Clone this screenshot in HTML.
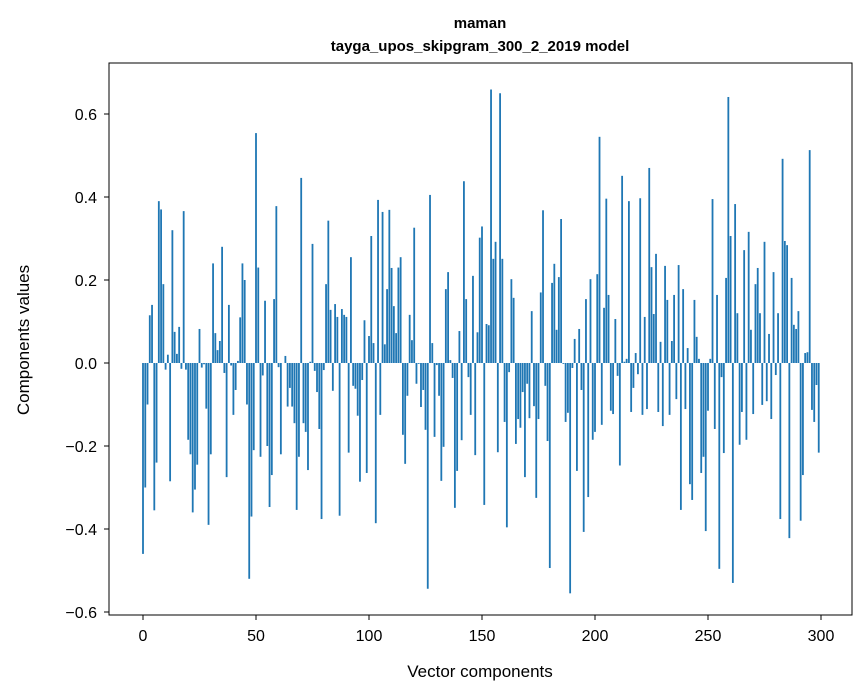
<!DOCTYPE html>
<html><head><meta charset="utf-8"><style>
body{margin:0;background:#fff;}
svg{display:block;font-family:"Liberation Sans",Arial,sans-serif;}
</style></head><body>
<svg id="chart" width="867" height="696" viewBox="0 0 867 696" xmlns="http://www.w3.org/2000/svg">
<text x="480" y="28" text-anchor="middle" font-size="15" font-weight="bold">maman</text>
<text x="480" y="51" text-anchor="middle" font-size="15" font-weight="bold">tayga_upos_skipgram_300_2_2019 model</text>
<g id="bars"></g>
<g id="axes"></g>
<rect x="109" y="63" width="743" height="552" fill="none" stroke="#000" stroke-width="1"/>
<text x="480" y="677" text-anchor="middle" font-size="17">Vector components</text>
<text transform="translate(29,340) rotate(-90)" text-anchor="middle" font-size="17">Components values</text>
</svg>
<script>
const values = [
-0.46,-0.30,-0.10,0.115,0.14,-0.355,-0.24,0.39,0.37,0.19,
-0.016,0.02,-0.285,0.32,0.075,0.022,0.087,-0.014,0.366,-0.016,
-0.185,-0.22,-0.36,-0.305,-0.245,0.082,-0.011,-0.003,-0.11,-0.39,
-0.22,0.24,0.072,0.031,0.053,0.28,-0.024,-0.275,0.14,-0.006,
-0.125,-0.065,0.005,0.11,0.24,0.2,-0.1,-0.52,-0.37,-0.21,
0.554,0.23,-0.226,-0.03,0.15,-0.2,-0.347,-0.27,0.154,0.378,
-0.01,-0.22,0,0.017,-0.105,-0.06,-0.105,-0.145,-0.354,-0.226,
0.446,-0.145,-0.166,-0.258,0.003,0.287,-0.019,-0.07,-0.159,-0.376,
-0.017,0.19,0.343,0.128,-0.067,0.142,0.111,-0.368,0.13,0.116,
0.111,-0.216,0.255,-0.055,-0.062,-0.127,-0.286,-0.041,0.103,-0.265,
0.065,0.306,0.048,-0.386,0.393,-0.125,0.364,0.045,0.178,0.369,
0.229,0.137,0.072,0.23,0.255,-0.173,-0.243,-0.079,0.116,0.055,
0.326,-0.05,-0.002,-0.106,-0.065,-0.161,-0.544,0.405,0.048,-0.178,
-0.005,-0.079,-0.284,-0.202,0.178,0.219,0.007,-0.036,-0.349,-0.26,
0.077,-0.186,0.438,0.154,-0.034,-0.125,0.21,-0.222,0.074,0.302,
0.329,-0.342,0.094,0.091,0.659,0.251,0.292,-0.215,0.65,0.251,
-0.142,-0.396,-0.022,0.202,0.157,-0.195,-0.135,-0.156,-0.07,-0.275,
-0.05,-0.133,0.125,-0.104,-0.325,-0.135,0.17,0.368,-0.055,-0.188,
-0.494,0.193,0.239,0.08,0.207,0.347,-0.002,-0.142,-0.12,-0.555,
-0.012,0.058,-0.26,0.082,-0.065,-0.407,0.154,-0.323,0.202,-0.185,
-0.166,0.214,0.545,-0.149,0.133,0.396,0.164,-0.115,-0.123,0.106,
-0.031,-0.247,0.451,0.003,0.01,0.39,-0.118,-0.06,0.024,-0.027,
0.397,-0.125,0.111,-0.111,0.47,0.231,0.118,0.263,-0.118,0.051,
-0.152,0.234,0.152,-0.125,0.053,0.164,-0.087,0.236,-0.354,0.178,
-0.111,0.036,-0.292,-0.33,0.152,0.063,0.01,-0.265,-0.226,-0.405,
-0.115,0.01,0.395,-0.159,0.164,-0.496,-0.034,-0.217,0.205,0.641,
0.306,-0.53,0.383,0.12,-0.197,-0.118,0.272,-0.185,0.316,0.08,
-0.123,0.19,0.229,0.12,-0.101,0.292,-0.092,0.07,-0.135,0.219,
-0.029,0.12,-0.376,0.492,0.294,0.284,-0.422,0.205,0.092,0.082,
0.125,-0.38,-0.27,0.024,0.026,0.513,-0.113,-0.142,-0.053,-0.216
];
const xTicks = [0,50,100,150,200,250,300];
const yTicks = [-0.6,-0.4,-0.2,0.0,0.2,0.4,0.6];
const yTickLabels = ["\u22120.6","\u22120.4","\u22120.2","0.0","0.2","0.4","0.6"];

const NS = "http://www.w3.org/2000/svg";
function xScale(i){ return 143 + 2.26*i; }
function yScale(v){ return 363 - 415*v; }
const barW = 0.8*2.26;
const barsG = document.getElementById('bars');
values.forEach((v,i)=>{
  const r = document.createElementNS(NS,'rect');
  const y0 = yScale(0), y1 = yScale(v);
  r.setAttribute('x', xScale(i)-barW/2);
  r.setAttribute('y', Math.min(y0,y1));
  r.setAttribute('width', barW);
  r.setAttribute('height', Math.abs(y1-y0));
  r.setAttribute('fill', '#1f77b4');
  
  
  barsG.appendChild(r);
});
const axesG = document.getElementById('axes');
xTicks.forEach(t=>{
  const x = xScale(t);
  const l = document.createElementNS(NS,'line');
  l.setAttribute('x1',x); l.setAttribute('x2',x); l.setAttribute('y1',615); l.setAttribute('y2',620);
  l.setAttribute('stroke','#000');
  
  
  axesG.appendChild(l);
  const tx = document.createElementNS(NS,'text');
  tx.setAttribute('x',x); tx.setAttribute('y',641); tx.setAttribute('text-anchor','middle'); tx.setAttribute('font-size','16');
  tx.textContent = String(t);
  
  
  axesG.appendChild(tx);
});
yTicks.forEach((t,k)=>{
  const y = yScale(t);
  const l = document.createElementNS(NS,'line');
  l.setAttribute('x1',104); l.setAttribute('x2',109); l.setAttribute('y1',y); l.setAttribute('y2',y);
  l.setAttribute('stroke','#000');
  
  
  axesG.appendChild(l);
  const tx = document.createElementNS(NS,'text');
  tx.setAttribute('x',97); tx.setAttribute('y',y+6); tx.setAttribute('text-anchor','end'); tx.setAttribute('font-size','16');
  tx.textContent = yTickLabels[k];
  
  
  axesG.appendChild(tx);
});
</script>
</body></html>
